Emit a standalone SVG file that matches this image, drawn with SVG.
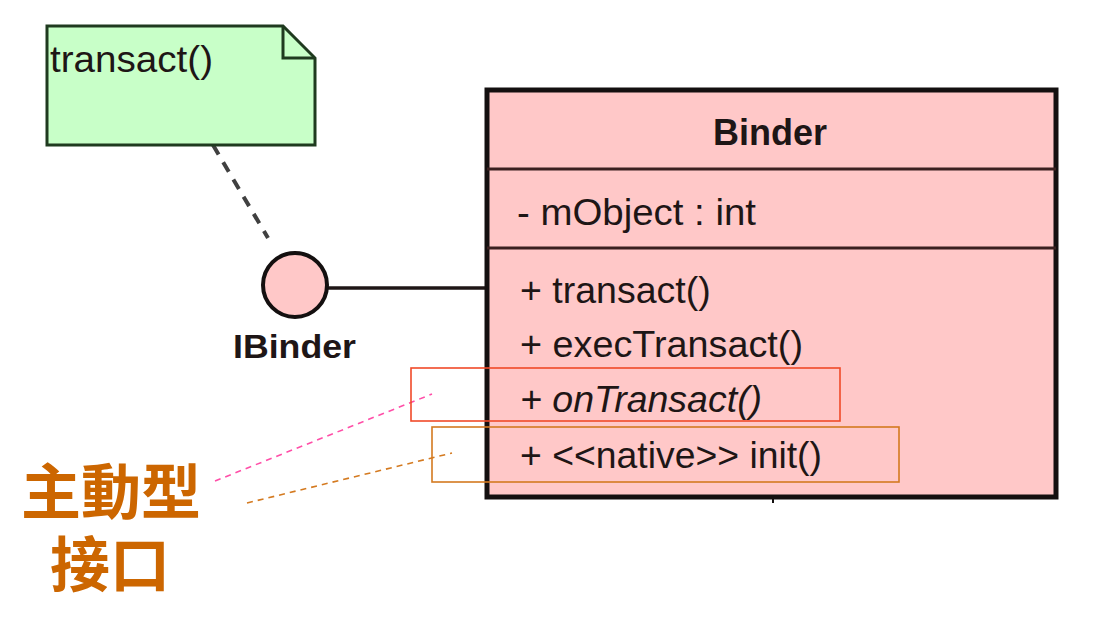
<svg xmlns="http://www.w3.org/2000/svg" width="1098" height="642" viewBox="0 0 1098 642">
<style>
  .uml { font-family: "Liberation Sans", Arial, sans-serif; fill: #1e1616; }
  .mem { font-size: 37.5px; }
  .bold { font-weight: bold; }
  .cjk { font-family: "Liberation Sans", "Noto Sans CJK TC", sans-serif; font-weight: bold; font-size: 60px; fill: #cc6600; }
  .hl { fill: none; stroke-width: 1.6; }
</style>
<rect width="1098" height="642" fill="#ffffff"/>

<g id="connectors">
  <line x1="213" y1="145" x2="268" y2="238" stroke="#404040" stroke-width="4" stroke-dasharray="11 9"/>
  <line x1="327" y1="288" x2="487" y2="288" stroke="#1e1616" stroke-width="3.5"/>
  <line x1="215" y1="481" x2="432" y2="394" stroke="#ff4fa8" stroke-width="1.6" stroke-dasharray="6 5"/>
  <line x1="247" y1="503" x2="452" y2="453" stroke="#d47a20" stroke-width="1.6" stroke-dasharray="6 5"/>
</g>

<g id="note">
  <path d="M47 26 H283 L315 58 V145 H47 Z" fill="#c8ffc8" stroke="#1f3a1f" stroke-width="3"/>
  <path d="M283 26 V58 H315" fill="none" stroke="#1f3a1f" stroke-width="3"/>
  <text x="50" y="72" class="uml" font-size="36" textLength="163" lengthAdjust="spacingAndGlyphs">transact()</text>
</g>

<g id="ibinder">
  <circle cx="295" cy="285" r="32" fill="#ffc8c8" stroke="#141010" stroke-width="4"/>
  <text x="233" y="358" class="uml bold" font-size="33" textLength="123" lengthAdjust="spacingAndGlyphs">IBinder</text>
</g>

<g id="binder">
  <rect x="487" y="90" width="569" height="407" fill="#ffc8c8" stroke="#141010" stroke-width="5"/>
  <line x1="487" y1="169" x2="1056" y2="169" stroke="#3a2020" stroke-width="3"/>
  <line x1="487" y1="248" x2="1056" y2="248" stroke="#3a2020" stroke-width="3"/>
  <line x1="773" y1="497" x2="773" y2="503" stroke="#141010" stroke-width="2"/>
  <text x="770" y="145" class="uml bold" font-size="36" text-anchor="middle">Binder</text>
  <text x="517" y="225" class="uml mem" textLength="239" lengthAdjust="spacingAndGlyphs">- mObject : int</text>
  <text x="520" y="303" class="uml mem">+ transact()</text>
  <text x="520" y="357" class="uml mem" textLength="283" lengthAdjust="spacingAndGlyphs">+ execTransact()</text>
  <text x="520" y="412" class="uml mem" font-style="italic">+ onTransact()</text>
  <text x="520" y="468" class="uml mem" textLength="302" lengthAdjust="spacingAndGlyphs">+ &lt;&lt;native&gt;&gt; init()</text>
</g>

<g id="highlights">
  <rect x="411" y="368" width="429" height="53" class="hl" stroke="#f04a28"/>
  <rect x="432" y="427" width="467" height="55" class="hl" stroke="#d47a20"/>
</g>

<g id="label">
  <text x="111" y="514" class="cjk" text-anchor="middle">主動型</text>
  <text x="110" y="587" class="cjk" text-anchor="middle">接口</text>
</g>
</svg>
